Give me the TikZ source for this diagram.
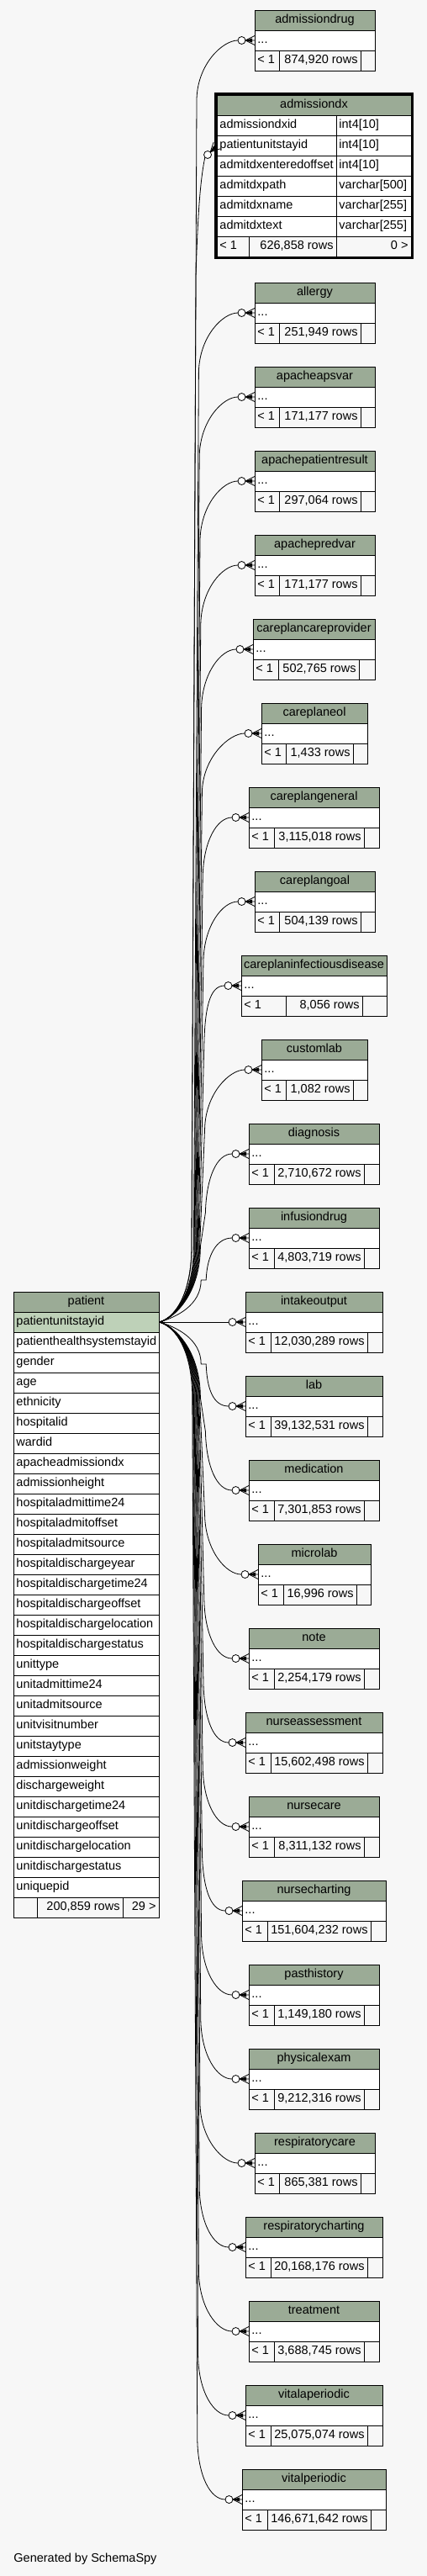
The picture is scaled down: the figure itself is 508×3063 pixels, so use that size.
\documentclass[tikz,border=0pt]{standalone}
\usepackage{fontspec}
\setmainfont{Liberation Sans}
\definecolor{hdrgreen}{HTML}{9BAB96}
\definecolor{keygreen}{HTML}{BED1B8}
\definecolor{paper}{HTML}{F7F7F7}

\begin{document}
\begin{tikzpicture}[x=1pt,y=-1pt,line width=0.9pt,font=\fontsize{14.5}{16}\selectfont,
  txt/.style={inner sep=3pt,text height=10pt,text depth=3pt,anchor=west},
  rel/.style={line width=0.8pt},
  crowfoot/.pic={
    \draw[line width=0.8pt,fill=white] (-15.5,0) circle (4.5pt);
    \draw[line width=0.8pt] (-11,0) -- (0,0) (-11,0) -- (0,-5.5) (-11,0) -- (0,5.5);
    \fill (-11,0) -- (-3,-2.5) -- (-3,2.5) -- cycle;}]
  % fondo
  \fill[paper] (0,0) rectangle (508,3063);

  % patient
  \filldraw[fill=hdrgreen] (16,1536) rectangle (189,1560);
  \node[txt,anchor=center] (patient) at (102.5,1548) {patient};
  \node[txt,draw,fill=keygreen,text width=167pt,minimum height=24pt] (patient-key) at (16,1572) {patientunitstayid};
  \foreach \f [count=\i] in {patienthealthsystemstayid,gender,age,ethnicity,hospitalid,wardid,
      apacheadmissiondx,admissionheight,hospitaladmittime24,hospitaladmitoffset,hospitaladmitsource,
      hospitaldischargeyear,hospitaldischargetime24,hospitaldischargeoffset,hospitaldischargelocation,
      hospitaldischargestatus,unittype,unitadmittime24,unitadmitsource,unitvisitnumber,unitstaytype,
      admissionweight,dischargeweight,unitdischargetime24,unitdischargeoffset,unitdischargelocation,
      unitdischargestatus,uniquepid}{
    \filldraw[fill=white] (16,1560+24*\i) rectangle (189,1584+24*\i);
    \node[txt] (pf-\i) at (16,1572+24*\i) {\f};
  }
  \draw (16,2256) rectangle (189,2280) (44,2256) -- (44,2280) (146,2256) -- (146,2280);
  \node[txt,anchor=east] (patient-rows) at (146,2268) {200,859 rows};
  \node[txt,anchor=east] (patient-kids) at (189,2268) {29 >};

  % admissiondx (tabla expandida)
  \filldraw[fill=hdrgreen] (258,113) rectangle (489,137);
  \node[txt,anchor=center] (admissiondx) at (373.5,125) {admissiondx};
  \foreach \c/\t [count=\i from 0] in {admissiondxid/int4[10],patientunitstayid/int4[10],
      admitdxenteredoffset/int4[10],admitdxpath/varchar[500],admitdxname/varchar[255],admitdxtext/varchar[255]}{
    \filldraw[fill=white] (258,137+24*\i) rectangle (400,161+24*\i);
    \filldraw[fill=white] (400,137+24*\i) rectangle (489,161+24*\i);
    \node[txt] (admdx-\i) at (258,149+24*\i) {\c};
    \node[txt] (admdx-type-\i) at (400,149+24*\i) {\t};
  }
  \draw (258,281) rectangle (489,305) (296,281) -- (296,305) (400,281) -- (400,305);
  \node[txt] (admdx-par) at (258,293) {< 1};
  \node[txt,anchor=east] (admdx-rows) at (400,293) {626,858 rows};
  \node[txt,anchor=east] (admdx-kids) at (489,293) {0 >};
  \draw[line width=3pt] (256.5,111.5) rectangle (490.5,306.5);
  \draw[rel] (patient-key.east) .. controls +(20,-6) and (228,1536) .. (228,1482)
    -- (233,330) .. controls (235,260) and (238,215) .. (243.8,187.2);
  \pic[rotate=45] at (admdx-1.west) {crowfoot};

  % tablas hijas
  \foreach \tname/\yt/\xl/\xr/\fa/\fb/\rows in {
      admissiondrug/12/303/446/332/429/874{,}920,
      allergy/336/303/446/332/429/251{,}949,
      apacheapsvar/436/303/446/332/429/171{,}177,
      apachepatientresult/536/303/446/332/429/297{,}064,
      apachepredvar/636/303/446/332/429/171{,}177,
      careplancareprovider/736/301/446/331/427/502{,}765,
      careplaneol/836/311/437/340/420/1{,}433,
      careplangeneral/936/296/451/326/433/3{,}115{,}018,
      careplangoal/1036/303/446/332/429/504{,}139,
      careplaninfectiousdisease/1136/287/460/340/431/8{,}056,
      customlab/1236/311/437/340/420/1{,}082,
      diagnosis/1336/296/451/326/433/2{,}710{,}672,
      infusiondrug/1436/296/451/326/433/4{,}803{,}719,
      intakeoutput/1536/292/455/322/437/12{,}030{,}289,
      lab/1636/292/455/322/437/39{,}132{,}531,
      medication/1736/296/451/326/433/7{,}301{,}853,
      microlab/1836/307/441/337/424/16{,}996,
      note/1936/296/451/326/433/2{,}254{,}179,
      nurseassessment/2036/292/455/322/437/15{,}602{,}498,
      nursecare/2136/296/451/326/433/8{,}311{,}132,
      nursecharting/2236/288/459/318/441/151{,}604{,}232,
      pasthistory/2336/296/451/326/433/1{,}149{,}180,
      physicalexam/2436/296/451/326/433/9{,}212{,}316,
      respiratorycare/2536/303/446/332/429/865{,}381,
      respiratorycharting/2636/292/455/322/437/20{,}168{,}176,
      treatment/2736/296/451/326/433/3{,}688{,}745,
      vitalaperiodic/2836/292/455/322/437/25{,}075{,}074,
      vitalperiodic/2936/288/459/318/441/146{,}671{,}642}{
    \filldraw[fill=hdrgreen] (\xl,\yt) rectangle (\xr,\yt+24);
    \filldraw[fill=white] (\xl,\yt+24) rectangle (\xr,\yt+48);
    \draw (\xl,\yt+48) rectangle (\xr,\yt+72) (\fa,\yt+48) -- (\fa,\yt+72) (\fb,\yt+48) -- (\fb,\yt+72);
    \node[txt,anchor=center] (\tname) at ({(\xl+\xr)/2},\yt+12) {\tname};
    \node[txt] (\tname-dots) at (\xl,\yt+36) {...};
    \node[txt] (\tname-par) at (\xl,\yt+60) {< 1};
    \node[txt,anchor=east] (\tname-rows) at (\fb,\yt+60) {\rows{} rows};
    % relacion con patient
    \pgfmathsetmacro\ty{\yt+36}
    \pgfmathsetmacro\dy{\ty-1572}
    \ifdim\dy pt=0pt
      \draw[rel] (patient-key.east) -- ([xshift=-20pt]\tname-dots.west);
    \else
      \pgfmathsetmacro\sg{sign(\dy)}
      \pgfmathsetmacro\da{min(90,abs(\dy)/2)}
      \pgfmathsetmacro\db{min(70,abs(\dy)/2)}
      \pgfmathsetmacro\xb{240-12*min(1,abs(\dy)/1500)}
      \pgfmathsetmacro\xe{\xb+6}
      \pgfmathsetmacro\ye{6*(\sg)}
      \pgfmathsetmacro\ya{1572+(\sg)*(\da)}
      \pgfmathsetmacro\yd{1572+0.4*(\sg)*(\da)}
      \pgfmathsetmacro\yb{\ty-(\sg)*(\db)}
      \pgfmathsetmacro\yc{\ty-0.4*(\sg)*(\db)}
      \draw[rel] (patient-key.east) .. controls +(20,\ye) and (\xb,\yd) .. (\xb,\ya)
        -- (\xe,\yb) .. controls (\xe+1,\yc) and (\xl-38,\ty) .. ([xshift=-20pt]\tname-dots.west);
    \fi
    \pic at (\tname-dots.west) {crowfoot};
  }

  \node[txt] (credit) at (13,3043) {Generated by SchemaSpy};
\end{tikzpicture}
\end{document}
